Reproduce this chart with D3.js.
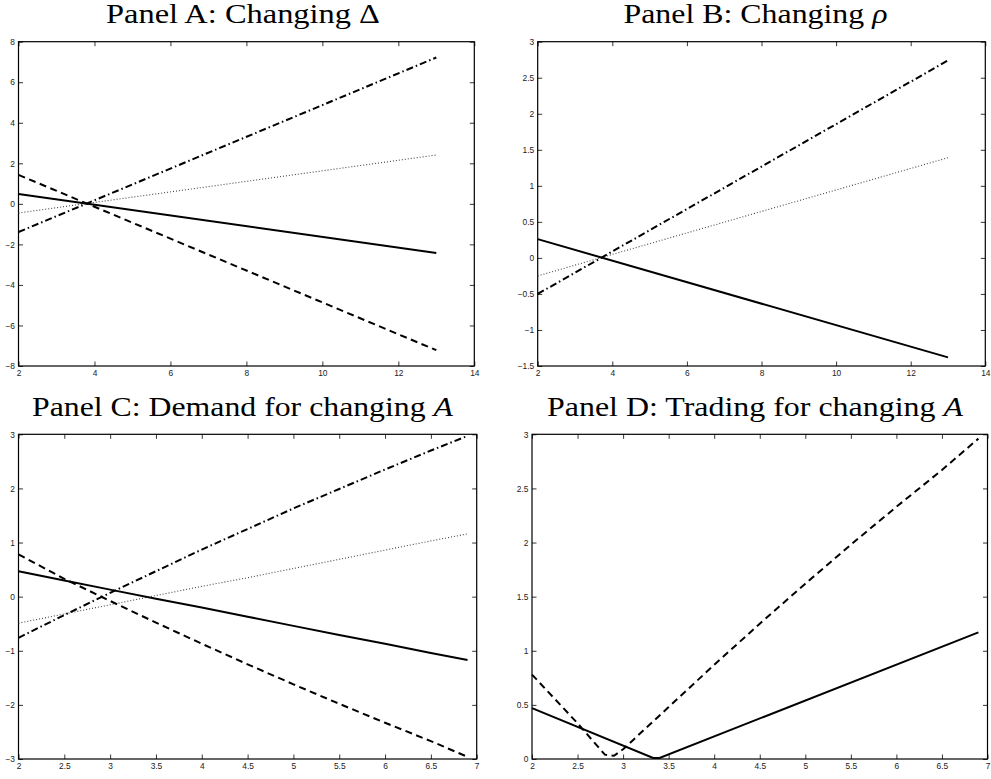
<!DOCTYPE html>
<html>
<head>
<meta charset="utf-8">
<script src="https://cdn.jsdelivr.net/npm/d3@7"></script>
<style>
  body { margin: 0; background: white; }
  .tick text { font-family: "Liberation Sans", Arial, sans-serif; font-size: 8.4px; fill: #222; }
  .title { font-family: "Liberation Serif", "DejaVu Serif", serif; font-size: 27px; fill: black; }
</style>
</head>
<body>
<svg id="chart" width="991" height="779"></svg>
<script>
// panel A: changing Delta
const aX = [2, 13]
const aSolid = [0.49, -2.43]
const aDashed = [1.43, -7.22]
const aDashDot = [-1.39, 7.22]
const aDotted = [-0.45, 2.41]
const aXTicks = [2, 4, 6, 8, 10, 12, 14]
const aYTicks = [-8, -6, -4, -2, 0, 2, 4, 6, 8]

// panel B: changing rho
const bX = [2, 13]
const bSolid = [0.26, -1.38]
const bDashDot = [-0.5, 2.74]
const bDotted = [-0.25, 1.39]
const bXTicks = [2, 4, 6, 8, 10, 12, 14]
const bYTicks = [-1.5, -1, -0.5, 0, 0.5, 1, 1.5, 2, 2.5, 3]

// panel C: demand for changing A
const cX = [2, 2.5, 3, 3.5, 4, 4.5, 5, 5.5, 6, 6.5, 6.9]
const cSolid = [0.47, 0.30, 0.13, -0.04, -0.20, -0.37, -0.54, -0.71, -0.87, -1.04, -1.17]
const cDashed = [0.78, 0.33, -0.08, -0.48, -0.87, -1.25, -1.62, -1.98, -2.33, -2.67, -2.96]
const cDashDot = [-0.76, -0.34, 0.07, 0.47, 0.87, 1.25, 1.63, 1.99, 2.35, 2.70, 2.97]
const cDotted = [-0.49, -0.32, -0.15, 0.02, 0.19, 0.35, 0.52, 0.69, 0.86, 1.03, 1.16]
const cXTicks = [2, 2.5, 3, 3.5, 4, 4.5, 5, 5.5, 6, 6.5, 7]
const cYTicks = [-3, -2, -1, 0, 1, 2, 3]

// panel D: trading for changing A
const dSolidX = [2, 3.33, 3.4, 6.9]
const dSolid = [0.47, 0.01, 0.01, 1.17]
const dDashedX = [2, 2.5, 2.8, 2.9, 3, 3.5, 4, 4.5, 5, 5.5, 6, 6.5, 6.9]
const dDashed = [0.78, 0.33, 0.04, 0.03, 0.09, 0.48, 0.87, 1.25, 1.62, 1.98, 2.33, 2.67, 2.96]
const dXTicks = [2, 2.5, 3, 3.5, 4, 4.5, 5, 5.5, 6, 6.5, 7]
const dYTicks = [0, 0.5, 1, 1.5, 2, 2.5, 3]

const STYLES = {
  solid:   { width: 2, dash: null, color: 'black' },
  dashed:  { width: 2, dash: '7,4.5', color: 'black' },
  dashdot: { width: 2, dash: '7,3,1.5,3', color: 'black' },
  dotted:  { width: 1.1, dash: '1,2', color: '#444' }
}

const TICK = 4.5

let svg = d3.select('#chart')

function series(xs, ys, style) {
  return { points: xs.map((x, i) => [x, ys[i]]), style: style }
}

function panel(cfg) {
  let x = d3.scaleLinear().domain(cfg.xDomain).range([cfg.left, cfg.right])
  let y = d3.scaleLinear().domain(cfg.yDomain).range([cfg.bottom, cfg.top])
  let fmt = (d) => String(d).replace('-', '\u2212')

  let g = svg.append('g')

  // ticks on all four sides, pointing inward
  g.append('g')
    .attr('transform', 'translate(0,' + cfg.bottom + ')')
    .call(d3.axisBottom(x).tickValues(cfg.xTicks).tickFormat(fmt).tickSizeInner(-TICK).tickSizeOuter(0).tickPadding(4))
  g.append('g')
    .attr('transform', 'translate(0,' + cfg.top + ')')
    .call(d3.axisTop(x).tickValues(cfg.xTicks).tickFormat('').tickSizeInner(-TICK).tickSizeOuter(0))
  g.append('g')
    .attr('transform', 'translate(' + cfg.left + ',0)')
    .call(d3.axisLeft(y).tickValues(cfg.yTicks).tickFormat(fmt).tickSizeInner(-TICK).tickSizeOuter(0).tickPadding(3.5))
  g.append('g')
    .attr('transform', 'translate(' + cfg.right + ',0)')
    .call(d3.axisRight(y).tickValues(cfg.yTicks).tickFormat('').tickSizeInner(-TICK).tickSizeOuter(0))
  g.selectAll('.domain').remove()
  g.selectAll('.tick line').attr('stroke', 'black').attr('stroke-width', 0.8)

  // box
  g.append('rect')
    .attr('x', cfg.left).attr('y', cfg.top)
    .attr('width', cfg.right - cfg.left).attr('height', cfg.bottom - cfg.top)
    .attr('fill', 'none').attr('stroke', 'black').attr('stroke-width', 1.2)

  let line = d3.line().x((d) => x(d[0])).y((d) => y(d[1]))
  cfg.lines.forEach((s) => {
    let st = STYLES[s.style]
    g.append('path')
      .attr('d', line(s.points))
      .attr('fill', 'none')
      .attr('stroke', st.color)
      .attr('stroke-width', st.width)
      .attr('stroke-dasharray', st.dash)
  })

  // title, with the math part as its own tspan; stretched to the measured width
  let t = g.append('text').attr('class', 'title')
    .attr('x', cfg.titleX).attr('y', cfg.titleY)
    .attr('text-anchor', 'middle')
    .attr('textLength', cfg.titleW)
    .attr('lengthAdjust', 'spacingAndGlyphs')
  t.append('tspan').text(cfg.title)
  t.append('tspan').attr('font-style', cfg.mathItalic ? 'italic' : 'normal').text(cfg.math)
}

panel({
  left: 18.5, right: 474.3, top: 41.7, bottom: 366,
  xDomain: [2, 14], yDomain: [-8, 8], xTicks: aXTicks, yTicks: aYTicks,
  title: 'Panel A: Changing ', math: '\u0394', mathItalic: false,
  titleX: 243, titleY: 22.7, titleW: 274,
  lines: [
    series(aX, aDotted, 'dotted'),
    series(aX, aDashDot, 'dashdot'),
    series(aX, aDashed, 'dashed'),
    series(aX, aSolid, 'solid')
  ]
})

panel({
  left: 537.7, right: 985.3, top: 41.7, bottom: 366,
  xDomain: [2, 14], yDomain: [-1.5, 3], xTicks: bXTicks, yTicks: bYTicks,
  title: 'Panel B: Changing ', math: '\u03c1', mathItalic: true,
  titleX: 755.5, titleY: 22.7, titleW: 264,
  lines: [
    series(bX, bDotted, 'dotted'),
    series(bX, bDashDot, 'dashdot'),
    series(bX, bSolid, 'solid')
  ]
})

panel({
  left: 18.5, right: 476.7, top: 434.3, bottom: 759,
  xDomain: [2, 7], yDomain: [-3, 3], xTicks: cXTicks, yTicks: cYTicks,
  title: 'Panel C: Demand for changing ', math: 'A', mathItalic: true,
  titleX: 242.5, titleY: 415.7, titleW: 421,
  lines: [
    series(cX, cDotted, 'dotted'),
    series(cX, cDashDot, 'dashdot'),
    series(cX, cDashed, 'dashed'),
    series(cX, cSolid, 'solid')
  ]
})

panel({
  left: 532, right: 987.5, top: 434.3, bottom: 759,
  xDomain: [2, 7], yDomain: [0, 3], xTicks: dXTicks, yTicks: dYTicks,
  title: 'Panel D: Trading for changing ', math: 'A', mathItalic: true,
  titleX: 755, titleY: 415.7, titleW: 416,
  lines: [
    series(dDashedX, dDashed, 'dashed'),
    series(dSolidX, dSolid, 'solid')
  ]
})
</script>
</body>
</html>
